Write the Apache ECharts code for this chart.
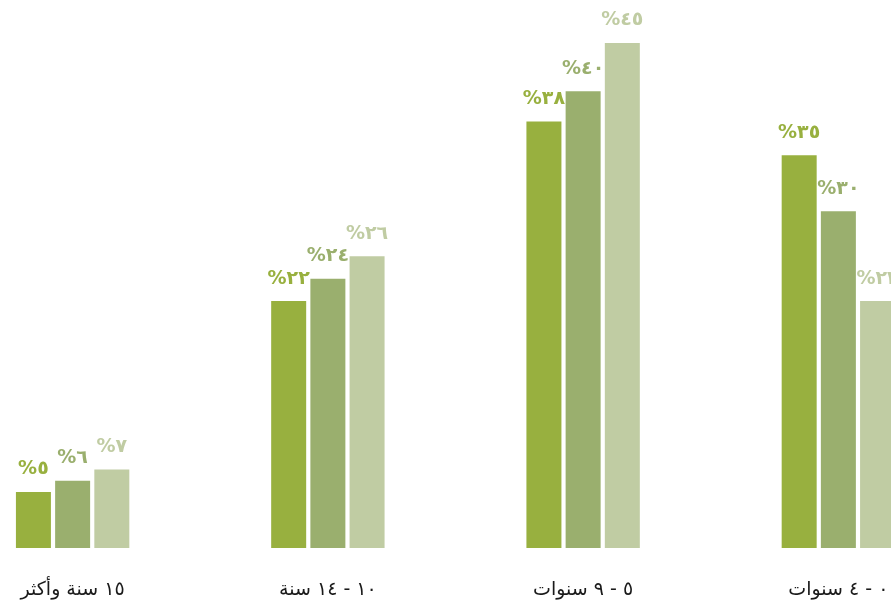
<!DOCTYPE html>
<html>
<head>
<meta charset="utf-8">
<script src="https://cdn.jsdelivr.net/npm/echarts@6/dist/echarts.min.js"></script>
<style>
html,body{margin:0;padding:0;background:#fff;overflow:hidden;width:891px;height:607px;}
#wrap{position:absolute;left:0;top:0;width:891px;height:607px;overflow:hidden;}
#chart{position:absolute;left:-55px;top:0;width:1021px;height:607px;direction:rtl;}
</style>
</head>
<body>
<div id="wrap"><div id="chart" dir="rtl"></div></div>
<script>
// Categories, left to right as drawn
const categories = ['١٥ سنة وأكثر', '١٠ - ١٤ سنة', '٥ - ٩ سنوات', '٠ - ٤ سنوات'];
// Series values (bar heights)
const series1 = [5, 22, 38, 35];
const series2 = [6, 24, 40.7, 30];
const series3 = [7, 26, 45, 22];
// Value label texts as printed
const labels1 = ['٥%', '٢٢%', '٣٨%', '٣٥%'];
const labels2 = ['٦%', '٢٤%', '٤٠%', '٣٠%'];
const labels3 = ['٧%', '٢٦%', '٤٥%', '٢٢%'];

const colors = ['#98b03f', '#9aaf6e', '#c0cca3'];
const FONT = "'DejaVu Sans', sans-serif";

function makeSeries(values, texts, color) {
  return {
    type: 'bar',
    data: values,
    barWidth: 35,
    barGap: '12%',
    itemStyle: { color: color },
    label: {
      show: true,
      position: 'top',
      distance: 13,
      color: color,
      fontFamily: FONT,
      fontWeight: 'bold',
      fontSize: 19,
      formatter: function (p) { return texts[p.dataIndex]; }
    },
    silent: true,
    animation: false
  };
}

const chart = echarts.init(document.getElementById('chart'), null, { renderer: 'canvas' });
chart.setOption({
  backgroundColor: '#ffffff',
  animation: false,
  grid: { left: 0, right: 0, top: 43, bottom: 59, containLabel: false },
  xAxis: {
    type: 'category',
    data: categories,
    axisLine: { show: false },
    axisTick: { show: false },
    axisLabel: {
      margin: 33,
      color: '#1a1a1a',
      fontFamily: FONT,
      fontSize: 19,
      interval: 0
    }
  },
  yAxis: {
    type: 'value',
    min: 0,
    max: 45,
    show: false,
    splitLine: { show: false }
  },
  series: [
    makeSeries(series1, labels1, colors[0]),
    makeSeries(series2, labels2, colors[1]),
    makeSeries(series3, labels3, colors[2])
  ]
});
</script>
</body>
</html>
